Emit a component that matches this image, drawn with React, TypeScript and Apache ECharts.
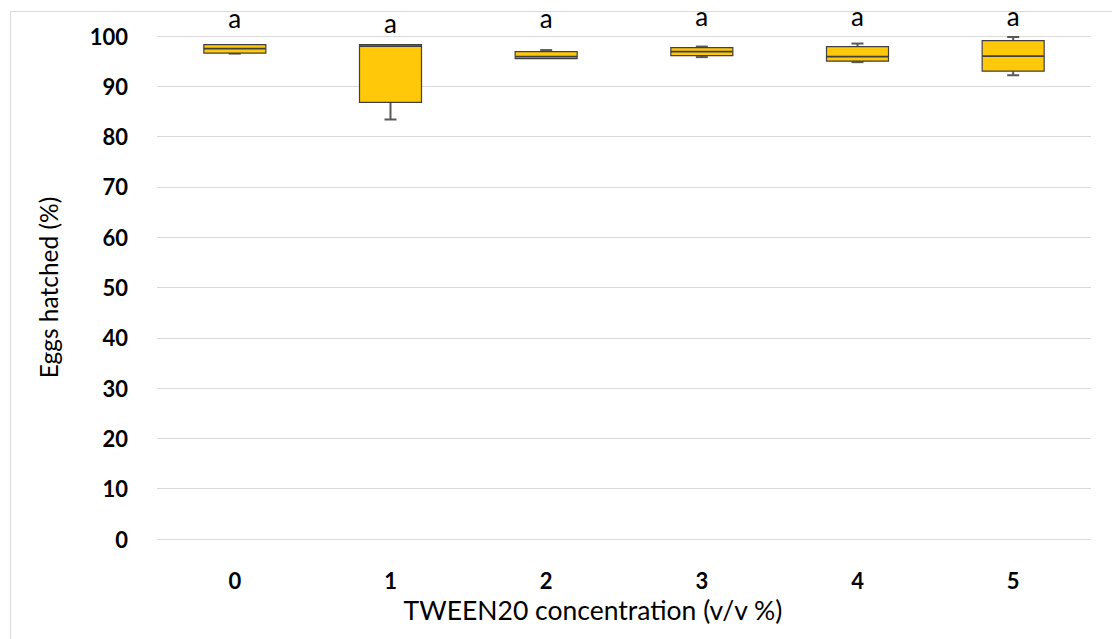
import React, { useEffect, useRef } from "react";
import * as echarts from "echarts";

const categories = ["0", "1", "2", "3", "4", "5"];
const mins = [96.5, 83.4, 95.5, 95.8, 94.8, 92.2];
const q1s = [96.6, 86.8, 95.5, 96.1, 95.0, 93.0];
const medians = [97.5, 98.0, 95.9, 96.9, 95.9, 96.0];
const q3s = [98.3, 98.3, 96.9, 97.7, 97.9, 99.1];
const maxs = [98.3, 98.3, 97.2, 97.9, 98.5, 99.8];
const letters = ["a", "a", "a", "a", "a", "a"];
const letterPos = [103.6, 102.5, 103.5, 103.9, 103.9, 103.9];
const yTicks = { min: 0, max: 100, interval: 10 };

export default function App() {
  const ref = useRef<HTMLDivElement>(null);
  useEffect(() => {
    if (!ref.current) return;
    const chart = echarts.init(ref.current, null, { renderer: "svg" });
    const boxData = categories.map((_, i) => [i, mins[i], q1s[i], medians[i], q3s[i], maxs[i]]);
    const letterData = categories.map((_, i) => [i, letterPos[i], letters[i]]);
    const font = "Lato, 'Open Sans', sans-serif";
    chart.setOption({
      animation: false,
      backgroundColor: "#fff",
      grid: { left: 157, right: 21, top: 36, bottom: 100 },
      graphic: [
        {
          type: "rect",
          shape: { x: 10.5, y: 11.5, width: 1200, height: 700 },
          style: { fill: "none", stroke: "#d9d9d9", lineWidth: 1 },
          silent: true,
          z: -1,
        },
        {
          type: "text",
          x: 593,
          y: 610,
          style: {
            text: "TWEEN20 concentration (v/v %)",
            fontFamily: font,
            fontSize: 26.5,
            fill: "#000",
            align: "center",
            verticalAlign: "middle",
          },
        },
      ],
      xAxis: {
        type: "category",
        data: categories,
        axisLine: { show: false },
        axisTick: { show: false },
        axisLabel: {
          margin: 30,
          fontFamily: font,
          fontWeight: "bold",
          fontSize: 22,
          color: "#000",
        },
      },
      yAxis: {
        type: "value",
        min: yTicks.min,
        max: yTicks.max,
        interval: yTicks.interval,
        axisLine: { show: false },
        axisTick: { show: false },
        splitLine: { lineStyle: { color: "#d9d9d9", width: 1 } },
        axisLabel: {
          margin: 29,
          fontFamily: font,
          fontWeight: "bold",
          fontSize: 22,
          color: "#000",
        },
        name: "Eggs hatched (%)",
        nameLocation: "middle",
        nameGap: 96,
        nameTextStyle: { fontFamily: font, fontSize: 24.5, color: "#000" },
      },
      series: [
        {
          type: "custom",
          clip: false,
          data: boxData,
          encode: { x: 0, y: [1, 2, 3, 4, 5] },
          renderItem: (params: any, api: any) => {
            const x = api.value(0);
            const pMin = api.coord([x, api.value(1)]);
            const pQ1 = api.coord([x, api.value(2)]);
            const pMed = api.coord([x, api.value(3)]);
            const pQ3 = api.coord([x, api.value(4)]);
            const pMax = api.coord([x, api.value(5)]);
            const cx = pMed[0];
            const hw = 31;
            const cap = 6;
            const whisk = { stroke: "#595959", lineWidth: 2 };
            const children: any[] = [];
            if (pMax[1] < pQ3[1] - 0.5) {
              children.push({ type: "line", shape: { x1: cx, y1: pMax[1], x2: cx, y2: pQ3[1] }, style: whisk });
              children.push({ type: "line", shape: { x1: cx - cap, y1: pMax[1], x2: cx + cap, y2: pMax[1] }, style: whisk });
            }
            if (pMin[1] > pQ1[1] + 0.5) {
              children.push({ type: "line", shape: { x1: cx, y1: pQ1[1], x2: cx, y2: pMin[1] }, style: whisk });
              children.push({ type: "line", shape: { x1: cx - cap, y1: pMin[1], x2: cx + cap, y2: pMin[1] }, style: whisk });
            }
            children.push({
              type: "rect",
              shape: { x: cx - hw, y: pQ3[1], width: hw * 2, height: pQ1[1] - pQ3[1] },
              style: { fill: "#ffc90a", stroke: "#404040", lineWidth: 1.2 },
            });
            children.push({
              type: "line",
              shape: { x1: cx - hw, y1: pMed[1], x2: cx + hw, y2: pMed[1] },
              style: { stroke: "#404040", lineWidth: 1.8 },
            });
            return { type: "group", children };
          },
          z: 3,
        },
        {
          type: "custom",
          clip: false,
          data: letterData,
          encode: { x: 0, y: 1 },
          renderItem: (params: any, api: any) => {
            const p = api.coord([api.value(0), api.value(1)]);
            return {
              type: "text",
              x: p[0],
              y: p[1],
              style: {
                text: letters[params.dataIndex],
                fontFamily: font,
                fontSize: 26,
                fill: "#000",
                align: "center",
                verticalAlign: "middle",
              },
            };
          },
          z: 4,
        },
      ],
    });
    return () => chart.dispose();
  }, []);
  return (
    <div
      ref={ref}
      style={{ position: "absolute", left: 0, top: 0, width: 1112, height: 639 }}
    />
  );
}
